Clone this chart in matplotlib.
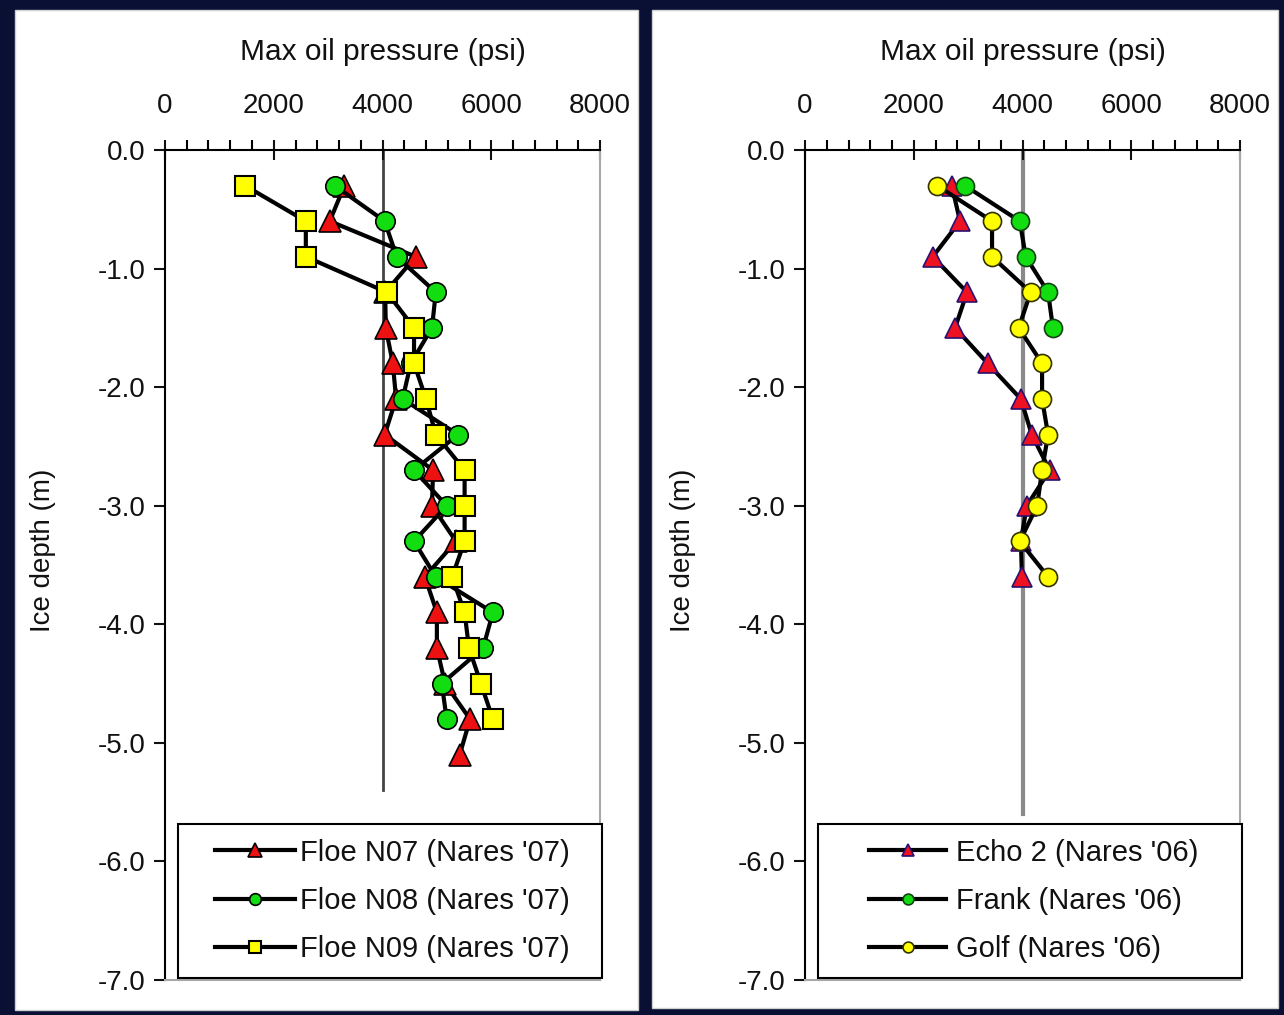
import matplotlib.pyplot as plt
from matplotlib.patches import Rectangle
from matplotlib.legend_handler import HandlerLine2D
from matplotlib.ticker import MultipleLocator, FormatStrFormatter

plt.rcParams['font.family'] = ['Liberation Sans', 'DejaVu Sans']

# Nares '07 floes: depth (m) vs max oil pressure (psi)
depth_n07 = [-0.3, -0.6, -0.9, -1.2, -1.5, -1.8, -2.1, -2.4, -2.7, -3.0,
             -3.3, -3.6, -3.9, -4.2, -4.5, -4.8, -5.1]
psi_n07 = [3300, 3030, 4610, 4050, 4060, 4190, 4250, 4040, 4930, 4910,
           5350, 4780, 5000, 5000, 5150, 5610, 5420]

depth_n08 = [-0.3, -0.6, -0.9, -1.2, -1.5, -1.8, -2.1, -2.4, -2.7, -3.0,
             -3.3, -3.6, -3.9, -4.2, -4.5, -4.8]
psi_n08 = [3120, 4040, 4260, 4980, 4910, 4520, 4370, 5390, 4580, 5180,
           4580, 4980, 6030, 5850, 5090, 5180]

depth_n09 = [-0.3, -0.6, -0.9, -1.2, -1.5, -1.8, -2.1, -2.4, -2.7, -3.0,
             -3.3, -3.6, -3.9, -4.2, -4.5, -4.8]
psi_n09 = [1470, 2590, 2590, 4080, 4580, 4580, 4800, 4980, 5510, 5510,
           5510, 5280, 5510, 5590, 5810, 6030]

# Nares '06 sites
depth_echo2 = [-0.3, -0.6, -0.9, -1.2, -1.5, -1.8, -2.1, -2.4, -2.7, -3.0,
               -3.3, -3.6]
psi_echo2 = [2700, 2850, 2350, 2980, 2760, 3360, 3970, 4170, 4500, 4080,
             3970, 3990]

depth_frank = [-0.3, -0.6, -0.9, -1.2, -1.5]
psi_frank = [2940, 3950, 4060, 4470, 4560]

depth_golf = [-0.3, -0.6, -0.9, -1.2, -1.5, -1.8, -2.1, -2.4, -2.7, -3.0,
              -3.3, -3.6]
psi_golf = [2430, 3440, 3440, 4150, 3930, 4360, 4360, 4470, 4360, 4270,
            3950, 4470]

# 4000 psi reference lines
ref_psi = [4000, 4000]
ref_depth_07 = [0.0, -5.4]
ref_depth_06 = [0.0, -5.6]

labels_07 = ["Floe N07 (Nares '07)", "Floe N08 (Nares '07)", "Floe N09 (Nares '07)"]
labels_06 = ["Echo 2 (Nares '06)", "Frank (Nares '06)", "Golf (Nares '06)"]


class ShortLine(HandlerLine2D):
    # legend line starts a bit in from the frame, marker centred on it
    def __init__(self, offset, **kw):
        super().__init__(**kw)
        self.offset = offset

    def get_xdata(self, legend, xdescent, ydescent, width, height, fontsize):
        start = -xdescent + self.offset * width
        end = -xdescent + width
        return [start, end], [0.5 * (start + end)]


W, H = 1284, 1015
fig = plt.figure(figsize=(W / 100, H / 100), dpi=100)
fig.patch.set_facecolor('#0a1034')

# white slide panels
for x0, x1, y0, y1 in [(15, 638, 10, 1010), (652, 1278, 10, 1008)]:
    fig.add_artist(Rectangle((x0 / W, 1 - y1 / H), (x1 - x0) / W, (y1 - y0) / H,
                             transform=fig.transFigure, facecolor='white',
                             edgecolor='#d0d0d0', lw=1, zorder=0))


def setup(ax):
    ax.set_facecolor('none')
    ax.set_xlim(0, 8000)
    ax.set_ylim(-7.0, 0.0)
    ax.xaxis.tick_top()
    ax.xaxis.set_label_position('top')
    ax.xaxis.set_major_locator(MultipleLocator(2000))
    ax.xaxis.set_minor_locator(MultipleLocator(400))
    ax.yaxis.set_major_locator(MultipleLocator(1.0))
    ax.yaxis.set_major_formatter(FormatStrFormatter('%.1f'))
    ax.tick_params(axis='x', which='major', direction='inout', length=14,
                   width=1.5, pad=15, labelsize=20, colors='#111111')
    ax.tick_params(axis='x', which='minor', direction='out', length=7, width=1.5)
    ax.tick_params(axis='y', which='major', direction='out', length=8,
                   width=1.5, pad=6, labelsize=20, colors='#111111')
    for s in ['left', 'top']:
        ax.spines[s].set_linewidth(1.5)
        ax.spines[s].set_color('black')
    for s in ['right', 'bottom']:
        ax.spines[s].set_linewidth(1.5)
        ax.spines[s].set_color('#a8a8a8')
    ax.set_xlabel('Max oil pressure (psi)', fontsize=21.5, labelpad=24, color='#111111')
    ax.set_ylabel('Ice depth (m)', fontsize=20, color='#111111')
    ax.yaxis.set_label_coords(-0.25, 0.518)


def add_legend(ax, hlen, offset, tpad):
    leg = ax.legend(loc='lower left', bbox_to_anchor=(0.03, 0.003, 0.975, 0.18),
                    mode='expand', borderaxespad=0, fontsize=21, numpoints=1,
                    handlelength=hlen, handletextpad=tpad, labelspacing=0.69,
                    borderpad=0.5, markerscale=0.6, fancybox=False,
                    framealpha=1, edgecolor='black',
                    handler_map={plt.Line2D: ShortLine(offset)})
    leg.get_frame().set_linewidth(1.5)
    for t in leg.get_texts():
        t.set_color('#111111')
    return leg


ax1 = fig.add_axes([165 / W, 1 - 980 / H, 435 / W, 830 / H])
setup(ax1)
ax1.plot(ref_psi, ref_depth_07, color='#444444', lw=2, zorder=1)
ax1.plot(psi_n07, depth_n07, color='black', lw=3, marker='^', ms=16,
         mfc='#ee1111', mec='black', mew=1.2, label=labels_07[0], zorder=3)
ax1.plot(psi_n08, depth_n08, color='black', lw=3, marker='o', ms=14,
         mfc='#11dd11', mec='black', mew=1.2, label=labels_07[1], zorder=4)
ax1.plot(psi_n09, depth_n09, color='black', lw=3, marker='s', ms=15,
         mfc='#ffff00', mec='black', mew=1.5, label=labels_07[2], zorder=5)
add_legend(ax1, 3.5, 0.22, 0.17)

ax2 = fig.add_axes([805 / W, 1 - 980 / H, 435 / W, 830 / H])
setup(ax2)
ax2.plot(ref_psi, ref_depth_06, color='#8a8a8a', lw=3, zorder=1)
ax2.plot(psi_echo2, depth_echo2, color='black', lw=3, marker='^', ms=15,
         mfc='#ee1122', mec='#2a1070', mew=1.2, label=labels_06[0], zorder=3)
ax2.plot(psi_frank, depth_frank, color='black', lw=3, marker='o', ms=13,
         mfc='#11dd11', mec='#114411', mew=1.2, label=labels_06[1], zorder=4)
ax2.plot(psi_golf, depth_golf, color='black', lw=3, marker='o', ms=13,
         mfc='#ffff00', mec='#333300', mew=1.2, label=labels_06[2], zorder=5)
add_legend(ax2, 3.9, 0.32, 0.34)

fig.savefig('out.png', dpi=100, facecolor=fig.get_facecolor())
